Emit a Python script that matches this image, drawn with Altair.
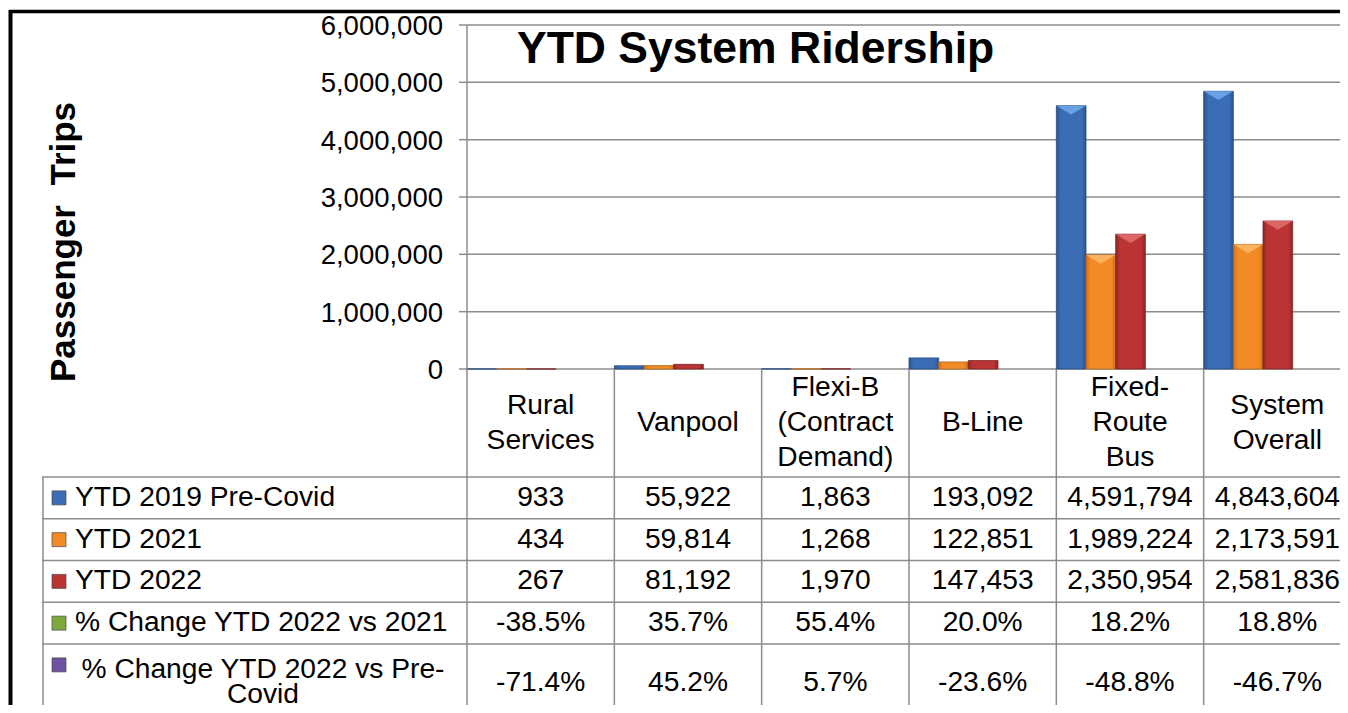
import altair as alt
import pandas as pd

# ---------------- data ----------------
categories = ["Rural\nServices", "Vanpool", "Flexi-B\n(Contract\nDemand)",
              "B-Line", "Fixed-\nRoute\nBus", "System\nOverall"]
series_names = ["YTD 2019 Pre-Covid", "YTD 2021", "YTD 2022"]
ytd_2019 = [933, 55922, 1863, 193092, 4591794, 4843604]
ytd_2021 = [434, 59814, 1268, 122851, 1989224, 2173591]
ytd_2022 = [267, 81192, 1970, 147453, 2350954, 2581836]
pct_2022_vs_2021 = [-38.5, 35.7, 55.4, 20.0, 18.2, 18.8]
pct_2022_vs_pre = [-71.4, 45.2, 5.7, -23.6, -48.8, -46.7]
row_labels = ["YTD 2019 Pre-Covid", "YTD 2021", "YTD 2022",
              "% Change YTD 2022 vs 2021", "% Change YTD 2022 vs Pre-\nCovid"]
y_ticks = [0, 1000000, 2000000, 3000000, 4000000, 5000000, 6000000]
chart_title = "YTD System Ridership"
y_title = "Passenger\u00a0 Trips"

# ---------------- tables built from the arrays ----------------
bar_rows = []
for s, vals in zip(series_names, [ytd_2019, ytd_2021, ytd_2022]):
    for c, v in zip(categories, vals):
        bar_rows.append({"cat": c, "series": s, "value": v})
bars_df = pd.DataFrame(bar_rows)

tab_rows = []
row_values = [ytd_2019, ytd_2021, ytd_2022, pct_2022_vs_2021, pct_2022_vs_pre]
for i, (r, vals) in enumerate(zip(row_labels, row_values)):
    for c, v in zip(categories, vals):
        txt = f"{v:,}" if i < 3 else f"{v:.1f}%"
        tab_rows.append({"cat": c, "row": r, "idx": i, "text": txt})
table_df = pd.DataFrame(tab_rows)
rowlab_df = pd.DataFrame({"row": row_labels, "idx": list(range(len(row_labels)))})
cat_df = pd.DataFrame({"cat": categories})
ytick_df = pd.DataFrame({"v": y_ticks})
one_df = pd.DataFrame({"k": [0]})

# ---------------- styles ----------------
FONT = "Liberation Sans"
GRAY = "#8c8c8c"
TXT = 28.2
W, H = 873, 344
BOTTOM = 680          # bottom edge of the drawing, in plot coordinates
HEADER_MID = 398      # vertical middle of the category header row
LINE_H = 35           # line spacing of header labels

def grad(edge, mid):
    return alt.LinearGradient(
        gradient="linear", x1=0, x2=1, y1=0, y2=0,
        stops=[alt.GradientStop(color=edge, offset=0),
               alt.GradientStop(color=mid, offset=0.15),
               alt.GradientStop(color=mid, offset=0.85),
               alt.GradientStop(color=edge, offset=1)])

bar_fills = [grad("#2a548e", "#3b6db4"), grad("#d0701a", "#f28a26"), grad("#8f2626", "#bb3434")]
bar_edges = ["#264c80", "#b8641a", "#7e2222"]
bevel_fills = ["#6ea6ea", "#fbb763", "#e06a6a"]
square_colors = ["#3b6db4", "#f08a26", "#bb3434", "#7fa83c", "#6f52a0"]

X_SCALE = alt.Scale(domain=categories, range=[0, 884], paddingInner=0, paddingOuter=0)
XO_SCALE = alt.Scale(domain=series_names, range=[0, 89], paddingInner=0, paddingOuter=0)
Y_SCALE = alt.Scale(domain=[0, 6000000], nice=False, zero=True)
ROW_SCALE = alt.Scale(domain=row_labels, range=[452, 660.75], paddingInner=0, paddingOuter=0)

def X(**kw):
    return alt.X("cat:N", scale=X_SCALE, axis=None, **kw)

def Yv(field="value:Q"):
    return alt.Y(field, scale=Y_SCALE, axis=None)

def Yr(**kw):
    return alt.Y("row:N", scale=ROW_SCALE, axis=None, **kw)

# ---------------- bar part (value axis drawn from the y scale) ----------------
layers = []
layers.append(alt.Chart(ytick_df).mark_rule(color=GRAY, strokeWidth=1.5).encode(y=Yv("v:Q")))
layers.append(alt.Chart(ytick_df).mark_rule(color=GRAY, strokeWidth=1.5).encode(
    y=Yv("v:Q"), x=alt.value(-8), x2=alt.value(0)))
layers.append(alt.Chart(ytick_df).mark_text(
    font=FONT, fontSize=27.5, align="right", baseline="middle", color="black", dy=2).encode(
    y=Yv("v:Q"), x=alt.value(-24), text=alt.Text("v:Q", format=",")))
layers.append(alt.Chart(one_df).mark_rule(color=GRAY, strokeWidth=1.5).encode(
    x=alt.value(0), y=alt.value(0), y2=alt.value(H)))
layers.append(alt.Chart(one_df).mark_text(
    font=FONT, fontSize=35, fontWeight="bold", angle=270, align="center",
    baseline="middle", color="black").encode(
    x=alt.value(-403), y=alt.value(217), text=alt.value(y_title)))

for i, s in enumerate(series_names):
    base = alt.Chart(bars_df).transform_filter(alt.datum.series == s)
    layers.append(
        base.mark_bar(fill=bar_fills[i], stroke=bar_edges[i], strokeWidth=0.8).encode(
            x=X(), xOffset=alt.XOffset("series:N", scale=XO_SCALE), y=Yv()))
for i, s in enumerate(series_names):
    base = alt.Chart(bars_df).transform_filter(
        (alt.datum.series == s) & (alt.datum.value > 500000))
    layers.append(
        base.mark_point(shape="M-1,0L1,0L0,0.6Z", filled=True, size=860,
                        fill=bevel_fills[i], opacity=0.9, strokeWidth=0).encode(
            x=X(), xOffset=alt.XOffset("series:N", scale=XO_SCALE), y=Yv()))

# category header labels (block centred in the header row) and column lines
for n in (1, 2, 3):
    layers.append(
        alt.Chart(cat_df)
        .transform_calculate(nl="length(split(datum.cat, '\\n'))")
        .transform_filter(alt.datum.nl == n)
        .mark_text(font=FONT, fontSize=TXT, align="center", baseline="middle",
                   lineBreak="\n", lineHeight=LINE_H, color="black")
        .encode(x=X(), y=alt.value(HEADER_MID - (n - 1) * LINE_H / 2), text="cat:N"))
layers.append(alt.Chart(cat_df).mark_rule(color=GRAY, strokeWidth=1.5).encode(
    x=X(bandPosition=0), y=alt.value(H), y2=alt.value(BOTTOM)))
bar_part = alt.layer(*layers)

# ---------------- data table part ----------------
row_lines = alt.Chart(rowlab_df).mark_rule(color=GRAY, strokeWidth=1.5).encode(
    y=Yr(bandPosition=0), x=alt.value(-425), x2=alt.value(W))
vals_main = alt.Chart(table_df).transform_filter(alt.datum.idx < 4).mark_text(
    font=FONT, fontSize=TXT, align="center", baseline="middle", color="black").encode(
    x=X(), y=Yr(), text="text:N")
vals_last = alt.Chart(table_df).transform_filter(alt.datum.idx == 4).mark_text(
    font=FONT, fontSize=TXT, align="center", baseline="middle", color="black", dy=18).encode(
    x=X(), y=Yr(), text="text:N")
labels_main = alt.Chart(rowlab_df).transform_filter(alt.datum.idx < 4).mark_text(
    font=FONT, fontSize=TXT, align="left", baseline="middle", color="black").encode(
    x=alt.value(-392), y=Yr(), text="row:N")
labels_last = alt.Chart(rowlab_df).transform_filter(alt.datum.idx == 4).mark_text(
    font=FONT, fontSize=TXT, align="center", baseline="top", color="black",
    lineBreak="\n", lineHeight=25, dy=-9).encode(
    x=alt.value(-204), y=Yr(), text="row:N")
squares = alt.Chart(rowlab_df).mark_point(
    shape="square", filled=True, size=196, opacity=1, stroke="#4a4a4a", strokeWidth=0.7).encode(
    x=alt.value(-408), y=Yr(),
    fill=alt.Fill("row:N", scale=alt.Scale(domain=row_labels, range=square_colors), legend=None))
table_part = alt.layer(row_lines, vals_main, vals_last, labels_main, labels_last, squares)

# ---------------- decorations ----------------
title_mark = alt.Chart(one_df).mark_text(
    font=FONT, fontSize=44.5, fontWeight="bold", align="left", baseline="alphabetic",
    color="black").encode(x=alt.value(50), y=alt.value(38), text=alt.value(chart_title))
frame_top = alt.Chart(one_df).mark_rule(color="black", strokeWidth=3.5).encode(
    x=alt.value(-458), x2=alt.value(W), y=alt.value(-13.5))
frame_left = alt.Chart(one_df).mark_rule(color="black", strokeWidth=4).encode(
    x=alt.value(-456.5), y=alt.value(-15), y2=alt.value(BOTTOM))
col_left = alt.Chart(one_df).mark_rule(color=GRAY, strokeWidth=1.5).encode(
    x=alt.value(-424), y=alt.value(452), y2=alt.value(BOTTOM))

chart = alt.layer(bar_part, table_part, title_mark, frame_top, frame_left, col_left
).resolve_scale(y="independent").properties(
    width=W, height=H,
    padding={"left": 459, "top": 17, "right": 0, "bottom": 336},
    autosize=alt.AutoSizeParams(type="none"),
    background="white",
).configure_view(strokeWidth=0)

chart.save("out.html", embed_options={"renderer": "svg", "actions": False})
